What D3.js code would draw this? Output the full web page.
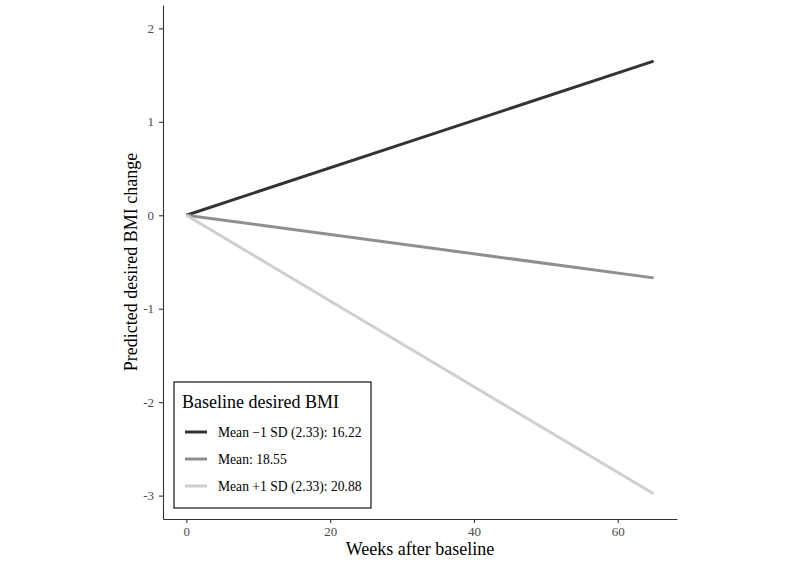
<!DOCTYPE html>
<html>
<head>
<meta charset="utf-8">
<script src="https://cdn.jsdelivr.net/npm/d3@7"></script>
<style>
  body { margin: 0; background: #fff; }
  svg { display: block; font-family: "Liberation Serif", "Times New Roman", serif; }
</style>
</head>
<body>
<svg width="800" height="561"></svg>
<script>
// datos
const weeks = [0, 65];
const seriesNames = ["Mean \u22121 SD (2.33): 16.22", "Mean: 18.55", "Mean +1 SD (2.33): 20.88"];
const lowValues = [0, 1.65];
const meanValues = [0, -0.67];
const highValues = [0, -2.98];
const seriesColors = ["#333333", "#8f8f8f", "#cfcfcf"];
const xTicks = [0, 20, 40, 60];
const yTicks = [-3, -2, -1, 0, 1, 2];

const allSeries = [lowValues, meanValues, highValues];

const svg = d3.select("svg"),
  margin = {top: 5, right: 123, bottom: 42, left: 163},
  width = +svg.attr("width") - margin.left - margin.right,
  height = +svg.attr("height") - margin.top - margin.bottom;

const g = svg.append("g")
  .attr("transform", `translate(${margin.left},${margin.top})`);

// escalas
const x = d3.scaleLinear().domain([-3.25, 68.25]).range([0, width]);
const y = d3.scaleLinear().domain([-3.25, 2.25]).range([height, 0]);

// ejes
const xAxis = g.append("g")
  .attr("transform", `translate(0,${height})`)
  .call(d3.axisBottom(x).tickValues(xTicks).tickSizeInner(4).tickSizeOuter(0).tickPadding(4).tickFormat(d3.format("d")));
const yAxis = g.append("g")
  .call(d3.axisLeft(y).tickValues(yTicks).tickSizeInner(4).tickSizeOuter(0).tickPadding(5).tickFormat(d => d < 0 ? "-" + Math.abs(d) : d));

[xAxis, yAxis].forEach(a => {
  a.select(".domain").attr("stroke", "#333").attr("stroke-width", 1.1);
  a.selectAll(".tick line").attr("stroke", "#333").attr("stroke-width", 1.1);
  a.selectAll(".tick text")
    .attr("fill", "#4d4d4d")
    .style("font-family", "Liberation Serif, serif")
    .style("font-size", "13px");
});

// lineas
const line = d3.line()
  .x((d, i) => x(weeks[i]))
  .y(d => y(d));

g.selectAll(".serie")
  .data(allSeries)
  .enter().append("path")
  .attr("class", "serie")
  .attr("d", line)
  .attr("fill", "none")
  .attr("stroke", (d, i) => seriesColors[i])
  .attr("stroke-width", 3);

// titulos de ejes
svg.append("text")
  .attr("x", margin.left + width / 2)
  .attr("y", 555)
  .attr("text-anchor", "middle")
  .style("font-size", "18px")
  .text("Weeks after baseline");

svg.append("text")
  .attr("transform", `translate(137,${margin.top + height / 2}) rotate(-90)`)
  .attr("text-anchor", "middle")
  .style("font-size", "18px")
  .text("Predicted desired BMI change");

// leyenda
const leyenda = svg.append("g").attr("transform", "translate(174,382)");
leyenda.append("rect")
  .attr("width", 197).attr("height", 126)
  .attr("fill", "#fff")
  .attr("stroke", "#000")
  .attr("stroke-width", 1.1);
leyenda.append("text")
  .attr("x", 8).attr("y", 26)
  .style("font-size", "18px")
  .text("Baseline desired BMI");

const items = leyenda.selectAll(".item")
  .data(seriesNames)
  .enter().append("g")
  .attr("class", "item")
  .attr("transform", (d, i) => `translate(0,${50 + i * 27})`);
items.append("line")
  .attr("x1", 11).attr("x2", 33)
  .attr("stroke", (d, i) => seriesColors[i])
  .attr("stroke-width", 3);
items.append("text")
  .attr("x", 44).attr("y", 4.5)
  .style("font-size", "13.6px")
  .text(d => d);
</script>
</body>
</html>
